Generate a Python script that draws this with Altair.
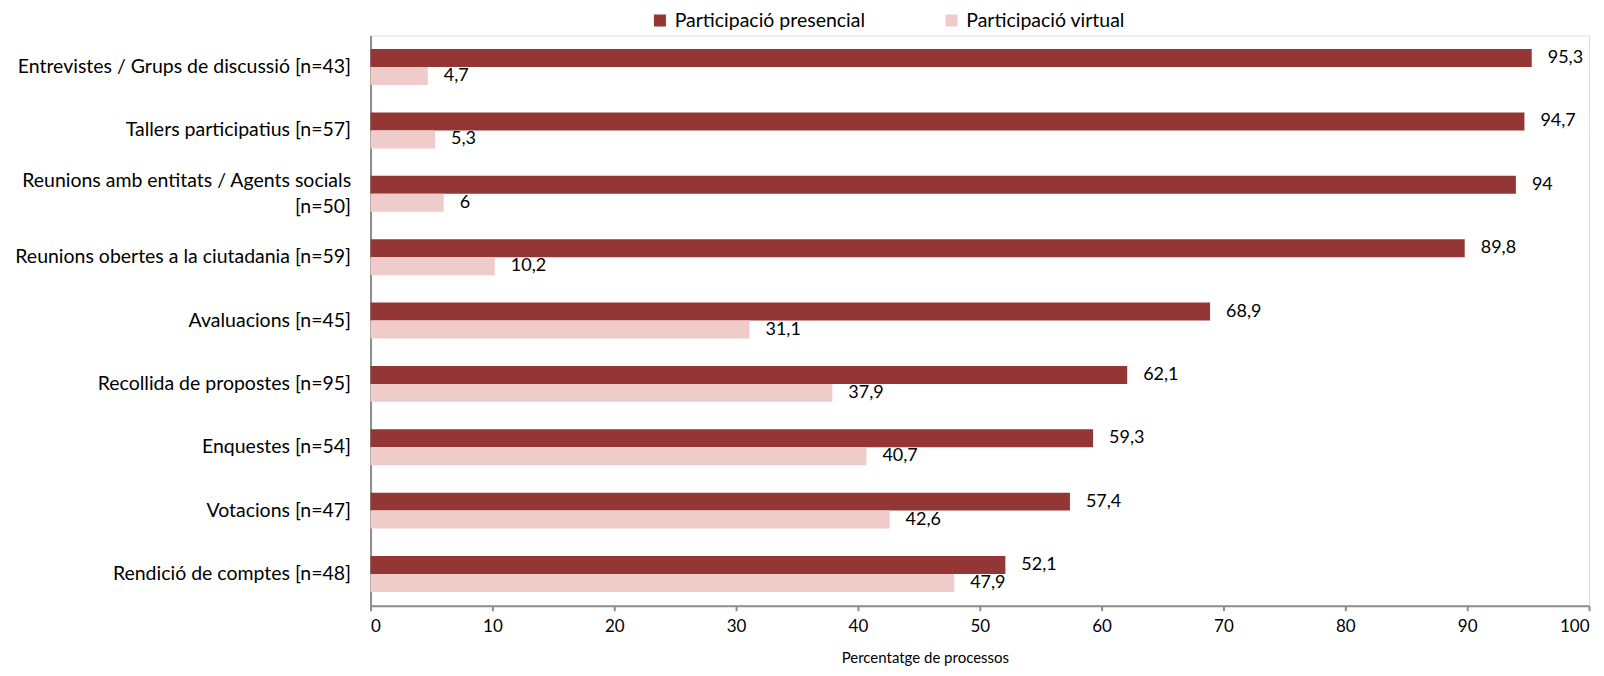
import altair as alt
import pandas as pd

categories = [
    "Entrevistes / Grups de discussió [n=43]",
    "Tallers participatius [n=57]",
    "Reunions amb entitats / Agents socials\n[n=50]",
    "Reunions obertes a la ciutadania [n=59]",
    "Avaluacions [n=45]",
    "Recollida de propostes [n=95]",
    "Enquestes [n=54]",
    "Votacions [n=47]",
    "Rendició de comptes [n=48]",
]
presencial = [95.3, 94.7, 94, 89.8, 68.9, 62.1, 59.3, 57.4, 52.1]
virtual = [4.7, 5.3, 6, 10.2, 31.1, 37.9, 40.7, 42.6, 47.9]
series = ["Participació presencial", "Participació virtual"]
colors = ["#943634", "#EFCBCA"]


def fmt(v):
    s = ("%.1f" % v).rstrip("0").rstrip(".")
    return s.replace(".", ",")


rows = []
for c, p, v in zip(categories, presencial, virtual):
    rows.append({"cat": c, "serie": series[0], "val": p, "lab": fmt(p)})
    rows.append({"cat": c, "serie": series[1], "val": v, "lab": fmt(v)})
df = pd.DataFrame(rows)

FONT = "Lato"

y_enc = alt.Y(
    "cat:N",
    sort=categories,
    scale=alt.Scale(paddingInner=0, paddingOuter=0),
    axis=alt.Axis(
        title=None,
        ticks=False,
        domainColor="#8c8c8c",
        domainWidth=2,
        labelFontSize=19.5,
        labelFont=FONT,
        labelColor="#000000",
        labelPadding=20,
        labelLimit=420,
        labelLineHeight=26,
        labelExpr="split(datum.label, '\\n')",
        labelOffset={
            "condition": {"test": "indexof(datum.label, '\\n') >= 0", "value": -13},
            "value": 0,
        },
    ),
)
yoff_enc = alt.YOffset(
    "serie:N",
    sort=series,
    scale=alt.Scale(paddingInner=0, paddingOuter=0.762),
)

x_enc = alt.X(
    "val:Q",
    scale=alt.Scale(domain=[0, 100], nice=False),
    axis=alt.Axis(
        title="Percentatge de processos",
        values=list(range(0, 101, 10)),
        grid=False,
        domainColor="#8c8c8c",
        domainWidth=2,
        tickColor="#8c8c8c",
        tickWidth=2,
        tickSize=5,
        labelFontSize=17,
        labelFont=FONT,
        labelColor="#000000",
        labelPadding=8,
        titleFont=FONT,
        titleFontSize=15,
        titleFontWeight="normal",
        titleColor="#000000",
        titleX=555,
        titleY=52,
        titleAlign="center",
        titleBaseline="middle",
        titleAnchor="start",
    ),
)

bars = alt.Chart(df).mark_bar().encode(
    x=x_enc,
    y=y_enc,
    yOffset=yoff_enc,
    color=alt.Color(
        "serie:N",
        sort=series,
        scale=alt.Scale(domain=series, range=colors),
        legend=alt.Legend(
            title=None,
            orient="none",
            direction="horizontal",
            legendX=280,
            legendY=-25,
            symbolType="square",
            symbolSize=144,
            symbolStrokeWidth=0,
            labelFont=FONT,
            labelFontSize=19.5,
            labelColor="#000000",
            labelOffset=5,
            labelLimit=400,
            columnPadding=76,
        ),
    ),
)

labels = alt.Chart(df).mark_text(
    align="left", baseline="middle", dx=16, fontSize=18, font=FONT, color="#000000"
).encode(
    x="val:Q",
    y=alt.Y("cat:N", sort=categories),
    yOffset=alt.YOffset("serie:N", sort=series),
    text="lab:N",
)

chart = (
    alt.layer(bars, labels)
    .properties(
        width=1220,
        height=571,
        autosize=alt.AutoSizeParams(type="none"),
        padding={"left": 363, "top": 27, "right": 7, "bottom": 60},
    )
    .configure_view(stroke=None)
    .configure(background="white")
)

chart.save("out.html", embed_options={"renderer": "svg", "actions": False})
